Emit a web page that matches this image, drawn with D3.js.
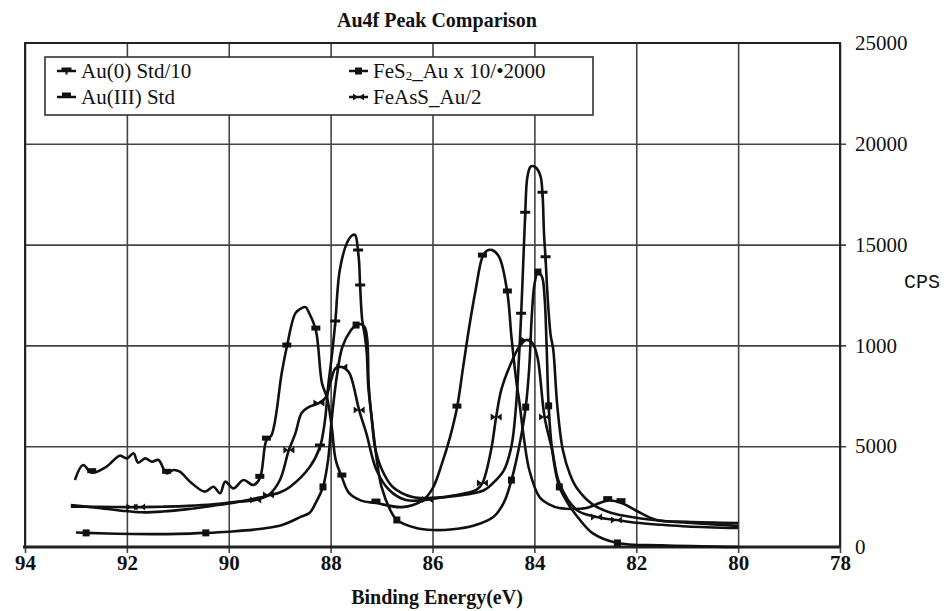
<!DOCTYPE html>
<html>
<head>
<meta charset="utf-8">
<script src="https://cdn.jsdelivr.net/npm/d3@7"></script>
<style>
    body { margin: 0; background: #fff; }
    svg { display: block; }
</style>
</head>
<body>
<svg id="chart"></svg>
<script>
// axis ticks (the 10000 label really reads "1000" on the original)
const xTicks = [94, 92, 90, 88, 86, 84, 82, 80, 78];
const yTicks = [0, 5000, 10000, 15000, 20000, 25000];
const yTickLabels = ["0", "5000", "1000", "15000", "20000", "25000"];

// [binding energy eV, CPS]
const au0Std = [
    [93.1, 2080], [92.6, 1950], [92.1, 1800], [91.7, 1720], [91.3, 1760], [90.8, 1880],
    [90.3, 2050], [89.9, 2200], [89.4, 2450], [89.0, 2700], [88.8, 2980], [88.41, 3970],
    [88.21, 4960], [88.11, 6300], [88.05, 7940], [87.97, 9620], [87.91, 11110], [87.82, 13740],
    [87.68, 15080], [87.58, 15450], [87.52, 15480], [87.46, 14630], [87.44, 14090], [87.42, 12900],
    [87.38, 11260], [87.33, 10500], [87.29, 9620], [87.26, 7940], [87.19, 6300], [87.13, 4960],
    [86.99, 3820], [86.78, 2980], [86.39, 2480], [85.91, 2450], [85.5, 2550], [85.0, 2800],
    [84.8, 3200], [84.6, 3800], [84.45, 5000], [84.36, 7000], [84.3, 9500], [84.26, 11500],
    [84.22, 14000], [84.18, 16500], [84.14, 18300], [84.08, 18850], [84.03, 18900], [83.96, 18800],
    [83.88, 18400], [83.84, 17500], [83.81, 15500], [83.78, 14300], [83.74, 12400], [83.68, 10500],
    [83.63, 9800], [83.55, 7000], [83.44, 4800], [83.3, 3600], [83.16, 2900], [82.85, 2100],
    [82.5, 1700], [82.0, 1450], [81.5, 1300], [81.0, 1200], [80.0, 1050]
];

const au3Std = [
    [93.02, 3323], [92.86, 4067], [92.69, 3687], [92.4, 3984], [92.14, 4530], [92.0, 4398],
    [91.87, 4646], [91.78, 4183], [91.64, 4398], [91.51, 4232], [91.38, 4315], [91.22, 3654],
    [91.09, 3819], [90.96, 3737], [90.76, 3240], [90.47, 2745], [90.3, 2990], [90.17, 2662],
    [90.07, 3240], [89.91, 2910], [89.71, 3323], [89.52, 3075], [89.39, 3406], [89.26, 5300],
    [89.16, 5550], [88.96, 8630], [88.86, 9920], [88.69, 11600], [88.57, 11850], [88.49, 11900],
    [88.43, 11650], [88.29, 10760], [88.17, 8130], [88.07, 7400], [87.98, 6000], [87.9, 4320],
    [87.78, 3470], [87.64, 2680], [87.4, 2300], [87.11, 2180], [86.6, 1980], [86.2, 2300],
    [86.0, 2900], [85.81, 4170], [85.65, 5500], [85.52, 6890], [85.4, 8900], [85.28, 10900],
    [85.15, 12800], [85.02, 14380], [84.93, 14700], [84.83, 14730], [84.69, 14380], [84.53, 12600],
    [84.45, 10420], [84.35, 8130], [84.3, 7290], [84.2, 5300], [84.1, 3820], [83.9, 2480],
    [83.7, 2100], [83.51, 1930], [82.98, 1930], [82.8, 2100], [82.56, 2300], [82.3, 2200],
    [82.0, 1800], [81.6, 1340], [81.0, 1250], [80.0, 1190]
];

const fes2Au = [
    [93.0, 720], [92.8, 700], [92.2, 660], [91.5, 640], [91.0, 650], [90.45, 700],
    [90.0, 760], [89.5, 860], [89.0, 1050], [88.8, 1240], [88.6, 1480], [88.41, 1700],
    [88.3, 2150], [88.15, 2980], [88.05, 4310], [87.98, 6300], [87.88, 8430], [87.77, 9920],
    [87.6, 10760], [87.5, 11010], [87.4, 11050], [87.33, 10900], [87.28, 10270], [87.25, 7940],
    [87.15, 5460], [87.0, 2980], [86.8, 1690], [86.7, 1340], [86.32, 940], [86.0, 840],
    [85.6, 880], [85.2, 1050], [84.8, 1500], [84.6, 2200], [84.45, 3320], [84.3, 4960],
    [84.17, 6940], [84.1, 8930], [84.05, 11500], [84.0, 13000], [83.93, 13640], [83.85, 13400],
    [83.8, 12400], [83.76, 10000], [83.72, 7000], [83.65, 4800], [83.51, 2980], [83.3, 2000],
    [83.17, 1550], [82.86, 690], [82.37, 200], [81.5, 80], [80.0, 0]
];

const feassAu = [
    [93.1, 2000], [92.5, 1990], [91.9, 1980], [91.75, 1980], [91.3, 2000], [90.8, 2040],
    [90.3, 2120], [89.9, 2230], [89.47, 2330], [89.22, 2580], [89.0, 3300], [88.82, 4810],
    [88.69, 5650], [88.57, 6650], [88.43, 6940], [88.23, 7140], [88.1, 7400], [88.0, 8200],
    [87.9, 8880], [87.78, 8930], [87.65, 8700], [87.58, 8280], [87.44, 6790], [87.3, 5650],
    [87.1, 3820], [86.85, 2830], [86.52, 2330], [86.1, 2350], [85.6, 2550], [85.14, 2830],
    [85.02, 3170], [84.85, 4810], [84.75, 6450], [84.65, 7790], [84.49, 8930], [84.3, 9920],
    [84.16, 10270], [84.04, 10120], [83.94, 9420], [83.8, 6450], [83.65, 4810], [83.51, 3170],
    [83.17, 1840], [82.78, 1490], [82.39, 1340], [82.0, 1200], [81.5, 1100], [81.0, 1020],
    [80.0, 940]
];

// energies where a symbol sits on each curve
const au0Marks = [88.21, 87.91, 87.46, 87.42, 84.26, 84.18, 83.84, 83.78];
const au3Marks = [92.69, 91.22, 89.39, 89.26, 88.86, 88.29, 87.78, 87.11, 85.52, 85.02, 84.53, 82.56, 82.3];
const fes2Marks = [92.8, 90.45, 88.15, 87.5, 86.7, 84.45, 84.17, 83.93, 83.72, 83.51, 82.37];
const feassMarks = [91.9, 91.75, 89.47, 89.22, 88.82, 88.23, 87.78, 87.44, 86.1, 85.02, 84.75, 84.16, 83.8, 82.78, 82.39];

const series = [
    { name: "Au(0) Std/10", data: au0Std, marks: au0Marks, symbol: "tee" },
    { name: "Au(III) Std", data: au3Std, marks: au3Marks, symbol: "bump" },
    { name: "FeS2", data: fes2Au, marks: fes2Marks, symbol: "square" },
    { name: "FeAsS_Au/2", data: feassAu, marks: feassMarks, symbol: "arrows" }
];

const width = 947;
const height = 611;
const margin = { top: 43, right: 107, bottom: 64, left: 25 };
const innerW = width - margin.left - margin.right;
const innerH = height - margin.top - margin.bottom;
const serif = "Liberation Serif, Times New Roman, serif";
const ink = "#111";

const svg = d3.select("#chart")
    .attr("width", width)
    .attr("height", height)
    .style("background", "white");

const x = d3.scaleLinear().domain([94, 78]).range([margin.left, width - margin.right]);
const y = d3.scaleLinear().domain([0, 25000]).range([height - margin.bottom, margin.top]);

//grid vertically (runs a bit below the axis as the tick marks)
const gridX = svg.append("g")
    .attr("transform", `translate(0,${margin.top})`)
    .call(d3.axisBottom(x).tickValues(xTicks).tickSize(innerH + 6).tickFormat(""));
gridX.select(".domain").remove();
gridX.selectAll("line").attr("stroke", "#444").attr("stroke-width", 1.6);

//grid horizontally (runs a bit past the right axis)
const gridY = svg.append("g")
    .attr("transform", `translate(${margin.left},0)`)
    .call(d3.axisRight(y).tickValues(yTicks.slice(1, -1)).tickSize(innerW + 6).tickFormat(""));
gridY.select(".domain").remove();
gridY.selectAll("line").attr("stroke", "#444").attr("stroke-width", 1.6);

//frame
svg.append("rect")
    .attr("x", margin.left)
    .attr("y", margin.top)
    .attr("width", innerW)
    .attr("height", innerH)
    .attr("fill", "none")
    .attr("stroke", "#222")
    .attr("stroke-width", 2);
svg.append("line")
    .attr("x1", margin.left - 2).attr("x2", margin.left + innerW)
    .attr("y1", y(0)).attr("y2", y(0))
    .attr("stroke", "#222")
    .attr("stroke-width", 3);

//axes labels
const xAxisG = svg.append("g")
    .attr("transform", `translate(0,${y(0)})`)
    .call(d3.axisBottom(x).tickValues(xTicks).tickSize(0).tickPadding(8).tickFormat(d3.format("d")))
    .attr("font-family", serif)
    .attr("font-size", 21)
    .attr("font-weight", "bold");
xAxisG.select(".domain").remove();
xAxisG.selectAll("text").attr("fill", ink);

const yAxisG = svg.append("g")
    .attr("transform", `translate(${margin.left + innerW},0)`)
    .call(d3.axisRight(y).tickValues(yTicks).tickSize(0).tickPadding(15)
        .tickFormat((d, i) => yTickLabels[i]))
    .attr("font-family", serif)
    .attr("font-size", 21);
yAxisG.select(".domain").remove();
yAxisG.selectAll("text").attr("fill", ink);

svg.append("text")
    .attr("x", 437)
    .attr("y", 27)
    .attr("text-anchor", "middle")
    .attr("font-family", serif)
    .attr("font-size", 20)
    .attr("font-weight", "bold")
    .attr("fill", ink)
    .text("Au4f Peak Comparison");

svg.append("text")
    .attr("x", 437)
    .attr("y", 604)
    .attr("text-anchor", "middle")
    .attr("font-family", serif)
    .attr("font-size", 20)
    .attr("font-weight", "bold")
    .attr("fill", ink)
    .text("Binding Energy(eV)");

svg.append("text")
    .attr("x", 904)
    .attr("y", 288)
    .attr("font-family", "Liberation Mono, Courier New, monospace")
    .attr("font-size", 20)
    .attr("fill", ink)
    .text("CPS");

//symbols
const symbolPaths = {
    tee: "M-5,-3.5h10v3h-4v4h-2v-4h-4z",
    bump: "M-4.5,-4.5h9v5h-9z",
    square: "M-3.5,-3.5h7v7h-7z",
    arrows: "M-5.5,-3.5L-0.5,0L-5.5,3.5Z M5.5,-3.5L0.5,0L5.5,3.5Z"
};

//curves
const line = d3.line()
    .x(d => x(d[0]))
    .y(d => y(d[1]))
    .curve(d3.curveCatmullRom.alpha(0.5));

const plot = svg.append("g");

series.forEach(s => {
    plot.append("path")
        .datum(s.data)
        .attr("d", line)
        .attr("fill", "none")
        .attr("stroke", ink)
        .attr("stroke-width", 2.6)
        .attr("stroke-linejoin", "round");

    const pts = s.marks.map(e => s.data.find(d => d[0] === e)).filter(d => d);
    plot.selectAll(null)
        .data(pts)
        .enter()
        .append("path")
        .attr("transform", d => `translate(${x(d[0])},${y(d[1])})`)
        .attr("d", symbolPaths[s.symbol])
        .attr("fill", ink);
});

//legend
const legend = svg.append("g");
legend.append("rect")
    .attr("x", 45)
    .attr("y", 57)
    .attr("width", 548)
    .attr("height", 58)
    .attr("fill", "white")
    .attr("stroke", "#333")
    .attr("stroke-width", 1.6);

const legendPos = [
    { lx: 57, ly: 71 },
    { lx: 57, ly: 97 },
    { lx: 349, ly: 71 },
    { lx: 349, ly: 97 }
];

series.forEach((s, i) => {
    const p = legendPos[i];
    legend.append("line")
        .attr("x1", p.lx).attr("x2", p.lx + 19)
        .attr("y1", p.ly).attr("y2", p.ly)
        .attr("stroke", ink)
        .attr("stroke-width", 2.5);
    legend.append("path")
        .attr("transform", `translate(${p.lx + 9.5},${p.ly})`)
        .attr("d", symbolPaths[s.symbol])
        .attr("fill", ink);

    const t = legend.append("text")
        .attr("x", p.lx + 24)
        .attr("y", p.ly + 7)
        .attr("font-family", serif)
        .attr("font-size", 21)
        .attr("fill", ink);
    if (s.symbol === "square") {
        t.append("tspan").text("FeS");
        t.append("tspan").attr("dy", 2).attr("font-size", 13).text("2");
        t.append("tspan").attr("dy", -2).text("_Au x 10/•2000");
    } else {
        t.text(s.name);
    }
});
</script>
</body>
</html>
